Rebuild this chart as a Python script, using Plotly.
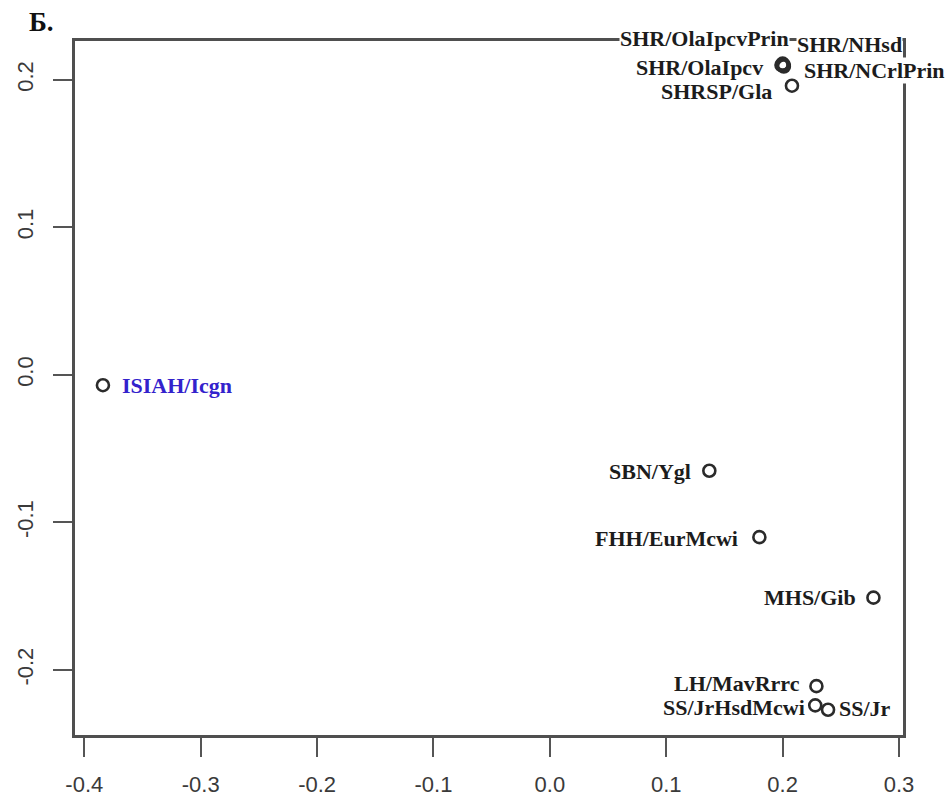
import plotly.graph_objects as go

# strain coordinates on the two principal components
strains = ["ISIAH/Icgn", "SHR/OlaIpcvPrin", "SHR/NHsd", "SHR/OlaIpcv",
           "SHR/NCrlPrin", "SHRSP/Gla", "SBN/Ygl", "FHH/EurMcwi",
           "MHS/Gib", "LH/MavRrrc", "SS/JrHsdMcwi", "SS/Jr"]
pc1 = [-0.384, 0.200, 0.201, 0.199, 0.201, 0.208, 0.137, 0.180,
       0.278, 0.229, 0.228, 0.239]
pc2 = [-0.007, 0.211, 0.209, 0.210, 0.210, 0.196, -0.065, -0.110,
       -0.151, -0.211, -0.224, -0.227]

x_ticks = [-0.4, -0.3, -0.2, -0.1, 0.0, 0.1, 0.2, 0.3]
y_ticks = [-0.2, -0.1, 0.0, 0.1, 0.2]

# label placement: (anchor side, x shift px, y shift px, white background)
label_pos = {
    "ISIAH/Icgn": ("left", 18, 0, False),
    "SHR/OlaIpcvPrin": ("right", 7, 25, True),
    "SHR/NHsd": ("left", 12, 22, True),
    "SHR/OlaIpcv": ("right", -17, -2, False),
    "SHR/NCrlPrin": ("left", 19, -5, True),
    "SHRSP/Gla": ("right", -19, -6, False),
    "SBN/Ygl": ("right", -17, -1, False),
    "FHH/EurMcwi": ("right", -20, -1, False),
    "MHS/Gib": ("right", -16, 0, False),
    "LH/MavRrrc": ("right", -15, 3, False),
    "SS/JrHsdMcwi": ("right", -9, -2, False),
    "SS/Jr": ("left", 10, 1, False),
}

fig = go.Figure()
fig.add_trace(go.Scatter(
    x=pc1, y=pc2, mode="markers",
    marker=dict(symbol="circle-open", size=12, color="#2b2b2b",
                line=dict(width=2.6, color="#2b2b2b")),
    hoverinfo="text", text=strains, showlegend=False,
))

serif = "Liberation Serif"
for name, xv, yv in zip(strains, pc1, pc2):
    side, dx, dy, bg = label_pos[name]
    color = "#3322cc" if name == "ISIAH/Icgn" else "#1c1c1c"
    fig.add_annotation(
        x=xv, y=yv, text="<b>%s</b>" % name, showarrow=False,
        xanchor=side, yanchor="middle", xshift=dx, yshift=dy,
        font=dict(family=serif, size=22, color=color),
        bgcolor="white" if bg else None, borderpad=0,
    )

fig.add_annotation(
    xref="paper", yref="paper", x=-0.04, y=1.028, text="<b>Б.</b>",
    showarrow=False, xanchor="center", yanchor="middle",
    font=dict(family=serif, size=27, color="#111111"),
)

axis_common = dict(
    showline=True, mirror=True, linecolor="#4f4f4f", linewidth=2.8,
    showgrid=False, zeroline=False, ticks="outside", ticklen=19,
    tickwidth=2.4, tickcolor="#555555", automargin=False,
    tickfont=dict(family="Liberation Sans", size=22, color="#3a3a3a"),
)

fig.update_xaxes(range=[-0.408, 0.3034], tickvals=x_ticks,
                 ticktext=["%.1f" % v for v in x_ticks],
                 ticklabelstandoff=9, **axis_common)
fig.update_yaxes(range=[-0.2441, 0.2263], tickvals=y_ticks,
                 ticktext=["%.1f" % v for v in y_ticks], tickangle=-90,
                 ticklabelstandoff=11, **axis_common)

fig.update_layout(
    width=949, height=803, autosize=False,
    margin=dict(l=75, r=46, t=41, b=68),
    paper_bgcolor="white", plot_bgcolor="white",
)

fig.write_html("out.html")
